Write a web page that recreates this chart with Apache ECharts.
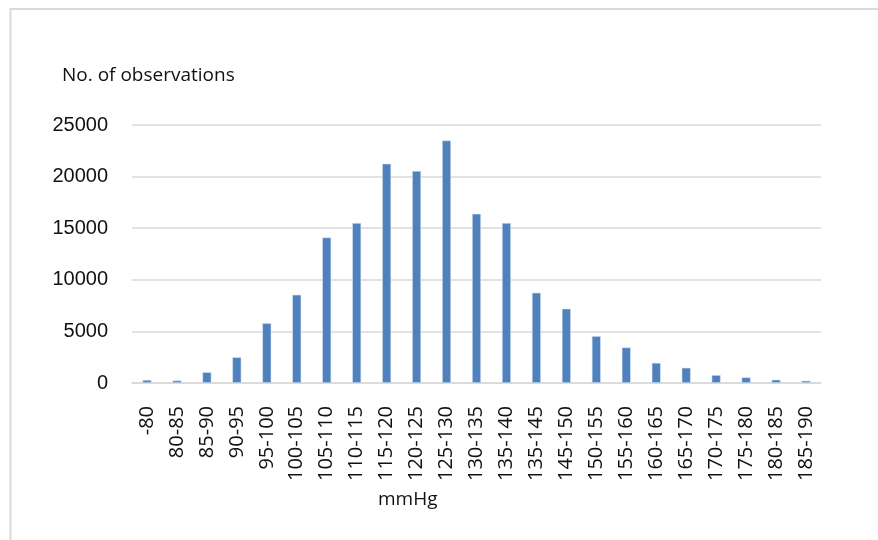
<!DOCTYPE html>
<html>
<head>
<meta charset="utf-8">
<title>Blood pressure distribution</title>
<script src="https://cdn.jsdelivr.net/npm/echarts@6/dist/echarts.min.js"></script>
<style>
  html, body { margin: 0; padding: 0; background: #ffffff; }
  #chart { width: 878px; height: 540px; }
</style>
</head>
<body>
<div id="chart"></div>
<script>
// Pressure bands (mmHg) and number of observations in each band
const bands = [
  '-80', '80-85', '85-90', '90-95', '95-100', '100-105', '105-110', '110-115',
  '115-120', '120-125', '125-130', '130-135', '135-140', '135-145', '145-150',
  '150-155', '155-160', '160-165', '165-170', '170-175', '175-180', '180-185', '185-190'
];
const observations = [
  300, 250, 1050, 2500, 5800, 8550, 14100, 15500,
  21250, 20550, 23500, 16400, 15500, 8750, 7200,
  4550, 3450, 1950, 1480, 770, 550, 320, 220
];
const yTicks = { min: 0, max: 25000, interval: 5000 };

const chart = echarts.init(document.getElementById('chart'), null, { renderer: 'canvas' });

chart.setOption({
  animation: false,
  backgroundColor: '#ffffff',
  graphic: [{
    type: 'rect',
    shape: { x: 10.5, y: 9, width: 1000, height: 700 },
    style: { fill: 'none', stroke: '#d9d9d9', lineWidth: 2 },
    silent: true
  }],
  title: [{
    text: 'No. of observations',
    left: 57, top: 61,
    textStyle: { fontFamily: 'Open Sans', fontSize: 19, fontWeight: 'normal', color: '#111' }
  }, {
    text: 'mmHg',
    left: 373, top: 485,
    textStyle: { fontFamily: 'Open Sans', fontSize: 19, fontWeight: 'normal', color: '#111' }
  }],
  grid: { left: 132, right: 57, top: 125, bottom: 157, containLabel: false },
  xAxis: {
    type: 'category',
    data: bands,
    axisLine: { show: true, lineStyle: { color: '#d9d9d9', width: 1.5 } },
    axisTick: { show: false },
    axisLabel: {
      rotate: 90,
      interval: 0,
      margin: 23,
      fontFamily: 'Open Sans',
      fontSize: 20,
      color: '#111'
    }
  },
  yAxis: {
    type: 'value',
    min: yTicks.min, max: yTicks.max, interval: yTicks.interval,
    axisLine: { show: false },
    axisTick: { show: false },
    splitLine: { lineStyle: { color: '#d9d9d9', width: 1.5 } },
    axisLabel: {
      margin: 24,
      fontFamily: 'Liberation Sans',
      fontSize: 20,
      color: '#111',
      formatter: function (v) { return String(v); }
    }
  },
  series: [{
    type: 'bar',
    data: observations,
    barWidth: 9,
    itemStyle: { color: '#4f81bd', borderColor: '#dce6f2', borderWidth: 0.6 }
  }]
});
</script>
</body>
</html>
